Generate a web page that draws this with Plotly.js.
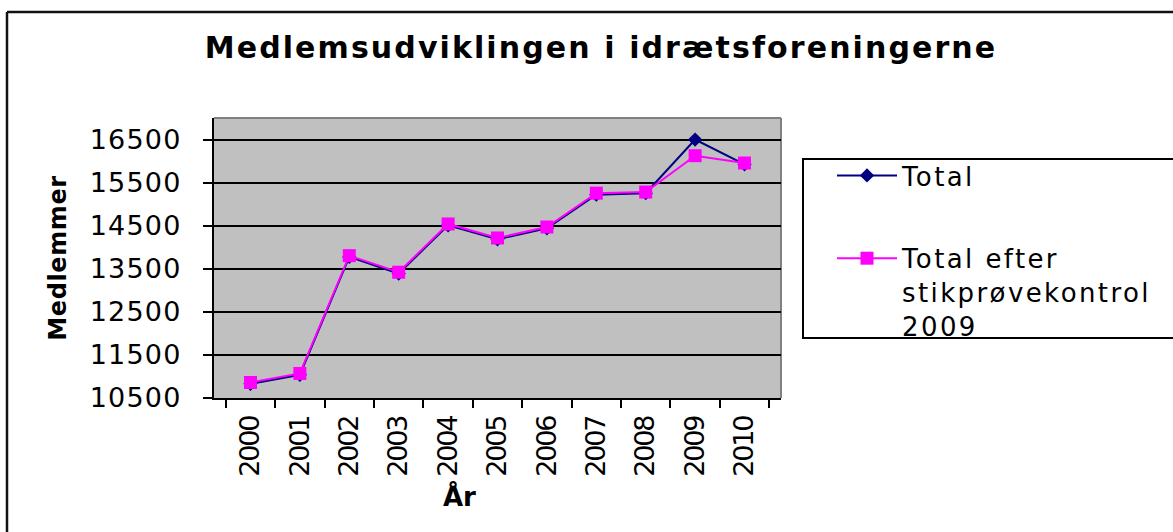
<!DOCTYPE html>
<html>
<head>
<meta charset="utf-8">
<script src="https://cdn.plot.ly/plotly-3.0.1.min.js"></script>
<style>
html,body{margin:0;padding:0;background:#fff;}
#chart{width:1173px;height:532px;}
text.gtitle{letter-spacing:2.1px;}
text.legendtext{letter-spacing:2.4px;}
.ytick text{letter-spacing:1.2px;}
.xtick text{letter-spacing:-2.2px;}
text.ytitle{letter-spacing:0.6px;}
</style>
</head>
<body>
<div id="chart"></div>
<script>
var years = ['2000','2001','2002','2003','2004','2005','2006','2007','2008','2009','2010'];
var total = [10830, 11040, 13775, 13390, 14510, 14185, 14440, 15220, 15255, 16500, 15925];
var totalEfter = [10860, 11070, 13805, 13420, 14540, 14215, 14470, 15255, 15280, 16125, 15955];
var yTickVals = [10500, 11500, 12500, 13500, 14500, 15500, 16500];
var seriesNames = ['Total', 'Total efter<br>stikprøvekontrol<br>2009'];

var W = 1173, H = 532;
var L = 214, R = 781, T = 118, B = 398;
function px(x){ return (x - L) / (R - L); }
function py(y){ return (B - y) / (B - T); }

var traces = [
  {
    x: years, y: total, name: seriesNames[0], type: 'scatter', mode: 'lines+markers',
    legendgroup: 'a',
    line: {color: '#000080', width: 2},
    marker: {symbol: 'diamond', size: 11, color: '#000080'}
  },
  {
    x: years, y: totalEfter, name: seriesNames[1], type: 'scatter', mode: 'lines+markers',
    legendgroup: 'b',
    line: {color: '#FF00FF', width: 2},
    marker: {symbol: 'square', size: 13, color: '#FF00FF'}
  }
];

var layout = {
  width: W, height: H,
  margin: {l: L, r: W - R, t: T, b: H - B, pad: 0},
  paper_bgcolor: '#ffffff',
  plot_bgcolor: '#C0C0C0',
  font: {family: 'DejaVu Sans, Verdana, sans-serif', color: '#000'},
  title: {
    text: '<b>Medlemsudviklingen i idrætsforeningerne</b>',
    font: {family: 'DejaVu Sans', size: 30, color: '#000'},
    xref: 'container', x: 601 / W, xanchor: 'center',
    yref: 'container', y: 1 - 47 / H, yanchor: 'middle'
  },
  xaxis: {
    type: 'category',
    showgrid: false,
    showline: true, linecolor: '#000', linewidth: 2,
    ticks: 'outside', ticklen: 8, tickwidth: 2, tickcolor: '#000',
    tickson: 'boundaries',
    tickangle: -90,
    tickfont: {family: 'DejaVu Sans', size: 27, color: '#000'},
    ticklabelstandoff: 6,
    zeroline: false,
    fixedrange: true
  },
  yaxis: {
    range: [10500, 17000],
    tickmode: 'array', tickvals: yTickVals, ticktext: yTickVals.map(String),
    showgrid: true, gridcolor: '#000', gridwidth: 2,
    showline: true, linecolor: '#000', linewidth: 2,
    ticks: 'outside', ticklen: 9, tickwidth: 2, tickcolor: '#000',
    tickfont: {family: 'DejaVu Sans', size: 27, color: '#000'},
    ticklabelstandoff: 16,
    zeroline: false,
    title: {text: '<b>Medlemmer</b>', font: {family: 'DejaVu Sans', size: 24, color: '#000'}, standoff: 16},
    fixedrange: true
  },
  legend: {
    x: px(832), y: py(152), xanchor: 'left', yanchor: 'top',
    xref: 'paper', yref: 'paper',
    bgcolor: 'rgba(0,0,0,0)', borderwidth: 0,
    font: {family: 'DejaVu Sans', size: 26, color: '#000'},
    traceorder: 'grouped', tracegroupgap: 46,
    itemwidth: 60, valign: 'top'
  },
  annotations: [
    {
      text: '<b>År</b>', xref: 'paper', yref: 'paper',
      x: px(459), y: py(496), xanchor: 'center', yanchor: 'middle',
      showarrow: false, font: {family: 'DejaVu Sans', size: 26, color: '#000'}
    }
  ],
  shapes: [
    {type: 'line', xref: 'paper', yref: 'paper', x0: px(214), x1: px(781), y0: py(118), y1: py(118), line: {color: '#808080', width: 2}, layer: 'below'},
    {type: 'line', xref: 'paper', yref: 'paper', x0: px(781), x1: px(781), y0: py(118), y1: py(398), line: {color: '#808080', width: 2}, layer: 'below'},
    {type: 'rect', xref: 'paper', yref: 'paper', x0: px(803), x1: px(1190), y0: py(159), y1: py(338), fillcolor: '#ffffff', line: {color: '#000', width: 2}, layer: 'above'},
    {type: 'line', xref: 'paper', yref: 'paper', x0: px(7), x1: px(7), y0: py(12), y1: py(545), line: {color: '#111', width: 2.5}},
    {type: 'line', xref: 'paper', yref: 'paper', x0: px(7), x1: px(1185), y0: py(12), y1: py(12), line: {color: '#111', width: 2.5}}
  ],
  showlegend: true
};

Plotly.newPlot('chart', traces, layout, {displayModeBar: false, staticPlot: true});
</script>
</body>
</html>
